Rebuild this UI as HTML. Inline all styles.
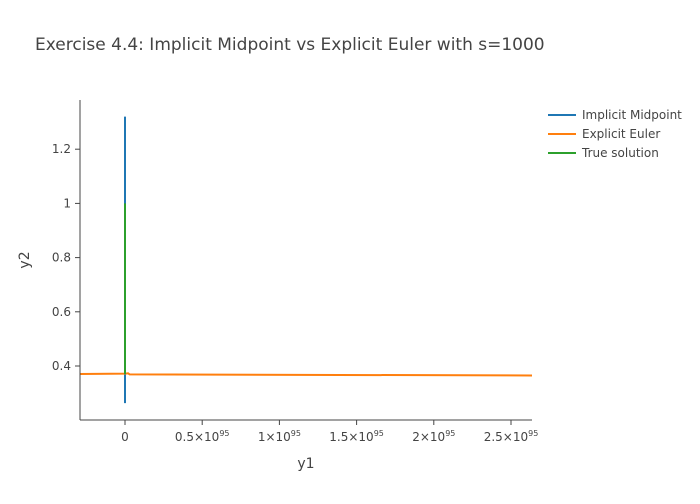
<!DOCTYPE html>
<html><head><meta charset="utf-8"><style>
body{margin:0;background:#fff;font-family:"DejaVu Sans",sans-serif}
svg text{font-family:"DejaVu Sans","Liberation Sans",sans-serif;fill:#444}
</style></head><body>
<svg id="c" width="700" height="500">
<text x="35" y="50" font-size="17">Exercise 4.4: Implicit Midpoint vs Explicit Euler with s=1000</text>
<defs><clipPath id="clip"><rect x="80" y="100" width="452" height="320"/></clipPath></defs>
<g id="grid"></g>
<g id="marks" clip-path="url(#clip)"></g>
<line x1="80" y1="100" x2="80" y2="420" stroke="#444"/>
<line x1="80" y1="420" x2="532" y2="420" stroke="#444"/>
<text x="306" y="468" font-size="14" text-anchor="middle">y1</text>
<text transform="translate(29,260) rotate(-90)" font-size="14" text-anchor="middle">y2</text>
<g id="legend"></g>
</svg>
<script>
const xTicks=[0,0.5,1,1.5,2,2.5];
const xTickLabels=["0","0.5×10","1×10","1.5×10","2×10","2.5×10"];
const yTicks=[0.4,0.6,0.8,1,1.2];
const yTickLabels=["0.4","0.6","0.8","1","1.2"];
const seriesNames=["Implicit Midpoint","Explicit Euler","True solution"];
const seriesColors=["#1f77b4","#ff7f0e","#2ca02c"];
const midX=[0,0,0,0];
const midY=[1.32,0.8,0.4,0.263];
const eulerX=[-0.35,0,0.02,0.03,2.7];
const eulerY=[0.370,0.372,0.373,0.369,0.365];
const trueX=[0,0,0];
const trueY=[1.0,0.6,0.37];
const X=v=>125+v*154.4;
const Y=v=>366-(v-0.4)*271;
const NS="http://www.w3.org/2000/svg";
const svg=document.getElementById('c');
function mk(t,a,p){const e=document.createElementNS(NS,t);for(const k in a)e.setAttribute(k,a[k]);(p||svg).appendChild(e);return e;}
const g=document.getElementById('grid');
xTicks.forEach((v,i)=>{
  const l=mk('line',{x1:X(v),x2:X(v),y1:420,y2:425,stroke:'#444'},g);
  
  
  const t=mk('text',{x:X(v),y:441,'font-size':12,'text-anchor':'middle'},g);
  
  
  t.textContent=xTickLabels[i];
  if(i>0){const s=mk('tspan',{dy:-5,'font-size':8},t);s.textContent='95';}
});
yTicks.forEach((v,i)=>{
  const l=mk('line',{x1:75,x2:80,y1:Y(v),y2:Y(v),stroke:'#444'},g);
  
  
  const t=mk('text',{x:71,y:Y(v)+4,'font-size':12,'text-anchor':'end'},g);
  
  
  t.textContent=yTickLabels[i];
});
const m=document.getElementById('marks');
[[midX,midY],[eulerX,eulerY],[trueX,trueY]].forEach((s,k)=>{
  const d=s[0].map((x,i)=>(i?'L':'M')+X(x)+','+Y(s[1][i])).join('');
  const p=mk('path',{d:d,fill:'none',stroke:seriesColors[k],'stroke-width':2},m);
  
  
});
const lg=document.getElementById('legend');
seriesNames.forEach((n,i)=>{
  const y=115+i*19;
  const gg=mk('g',{},lg);
  
  
  mk('line',{x1:548,x2:576,y1:y,y2:y,stroke:seriesColors[i],'stroke-width':2},gg);
  const t=mk('text',{x:582,y:y+4,'font-size':12},gg);t.textContent=n;
});
</script>
</body></html>
